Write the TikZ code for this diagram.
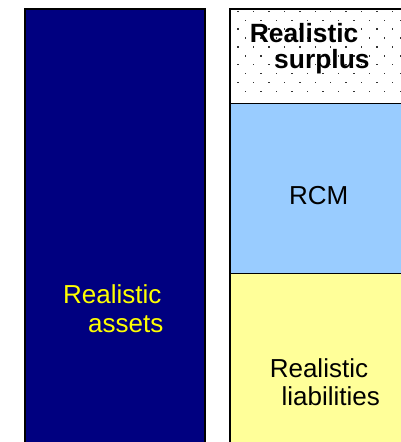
\documentclass[tikz,border=0pt]{standalone}
\usepackage{fontspec}
\setmainfont{Liberation Sans}
\definecolor{assetnavy}{HTML}{000080}
\definecolor{rcmblue}{HTML}{99CCFF}
\definecolor{liabyellow}{HTML}{FFFF99}
\definecolor{txtyellow}{HTML}{FFFF00}
\definecolor{dotgray}{HTML}{333333}
\tikzset{
  block/.style={draw=black, line width=1.7pt},
  divider/.style={draw=black, line width=1.7pt},
  label/.style={anchor=base west, inner sep=0pt, font=\fontsize{26}{29}\selectfont},
  boldlabel/.style={label, font=\fontsize{26.4}{29}\selectfont\bfseries},
  dot/.style={fill=dotgray, draw=none}
}
\begin{document}
\begin{tikzpicture}[x=1pt, y=-1pt]
  \useasboundingbox (0,0) rectangle (401,442);
  \clip (0,0) rectangle (401,442);
  \fill[white] (0,0) rectangle (401,442);

  % assets column
  \filldraw[block, fill=assetnavy] (24.7,9.2) rectangle (204.9,460);

  % liabilities column: surplus, RCM and liabilities bands
  \fill[white] (230,9.2) rectangle (420,103.5);
  \foreach \r in {0,...,9} {
    \pgfmathsetmacro{\yy}{11.3+8.9*\r}
    \pgfmathsetmacro{\xo}{mod(\r,2)==0 ? 238 : 245.7}
    \foreach \c in {0,...,11} {
      \fill[dot] ({\xo+15.45*\c-0.7},{\yy-0.7}) rectangle ++(1.4,1.4);
    }
  }
  \fill[rcmblue] (230,103.5) rectangle (420,273.5);
  \fill[liabyellow] (230,273.5) rectangle (420,460);
  \draw[block] (230,460) -- (230,9.2) -- (420,9.2);
  \coordinate (divA) at (230,103.5);
  \coordinate (divAe) at (420,103.5);
  \coordinate (divB) at (230,273.5);
  \coordinate (divBe) at (420,273.5);
  \draw[divider] (divA) -- (divAe);
  \draw[divider] (divB) -- (divBe);

  % texts
  \node[boldlabel] (surA) at (249.6,42.7) {Realistic};
  \node[boldlabel] (surB) at (274,68.3) {surplus};
  \node[label] (rcm) at (289,204.3) {RCM};
  \node[label] (liaA) at (269.6,377.3) {Realistic};
  \node[label] (liaB) at (281.4,405.7) {liabilities};
  \node[label, text=txtyellow] (astA) at (63,303.3) {Realistic};
  \node[label, text=txtyellow] (astB) at (88,332.3) {assets};
\end{tikzpicture}
\end{document}
